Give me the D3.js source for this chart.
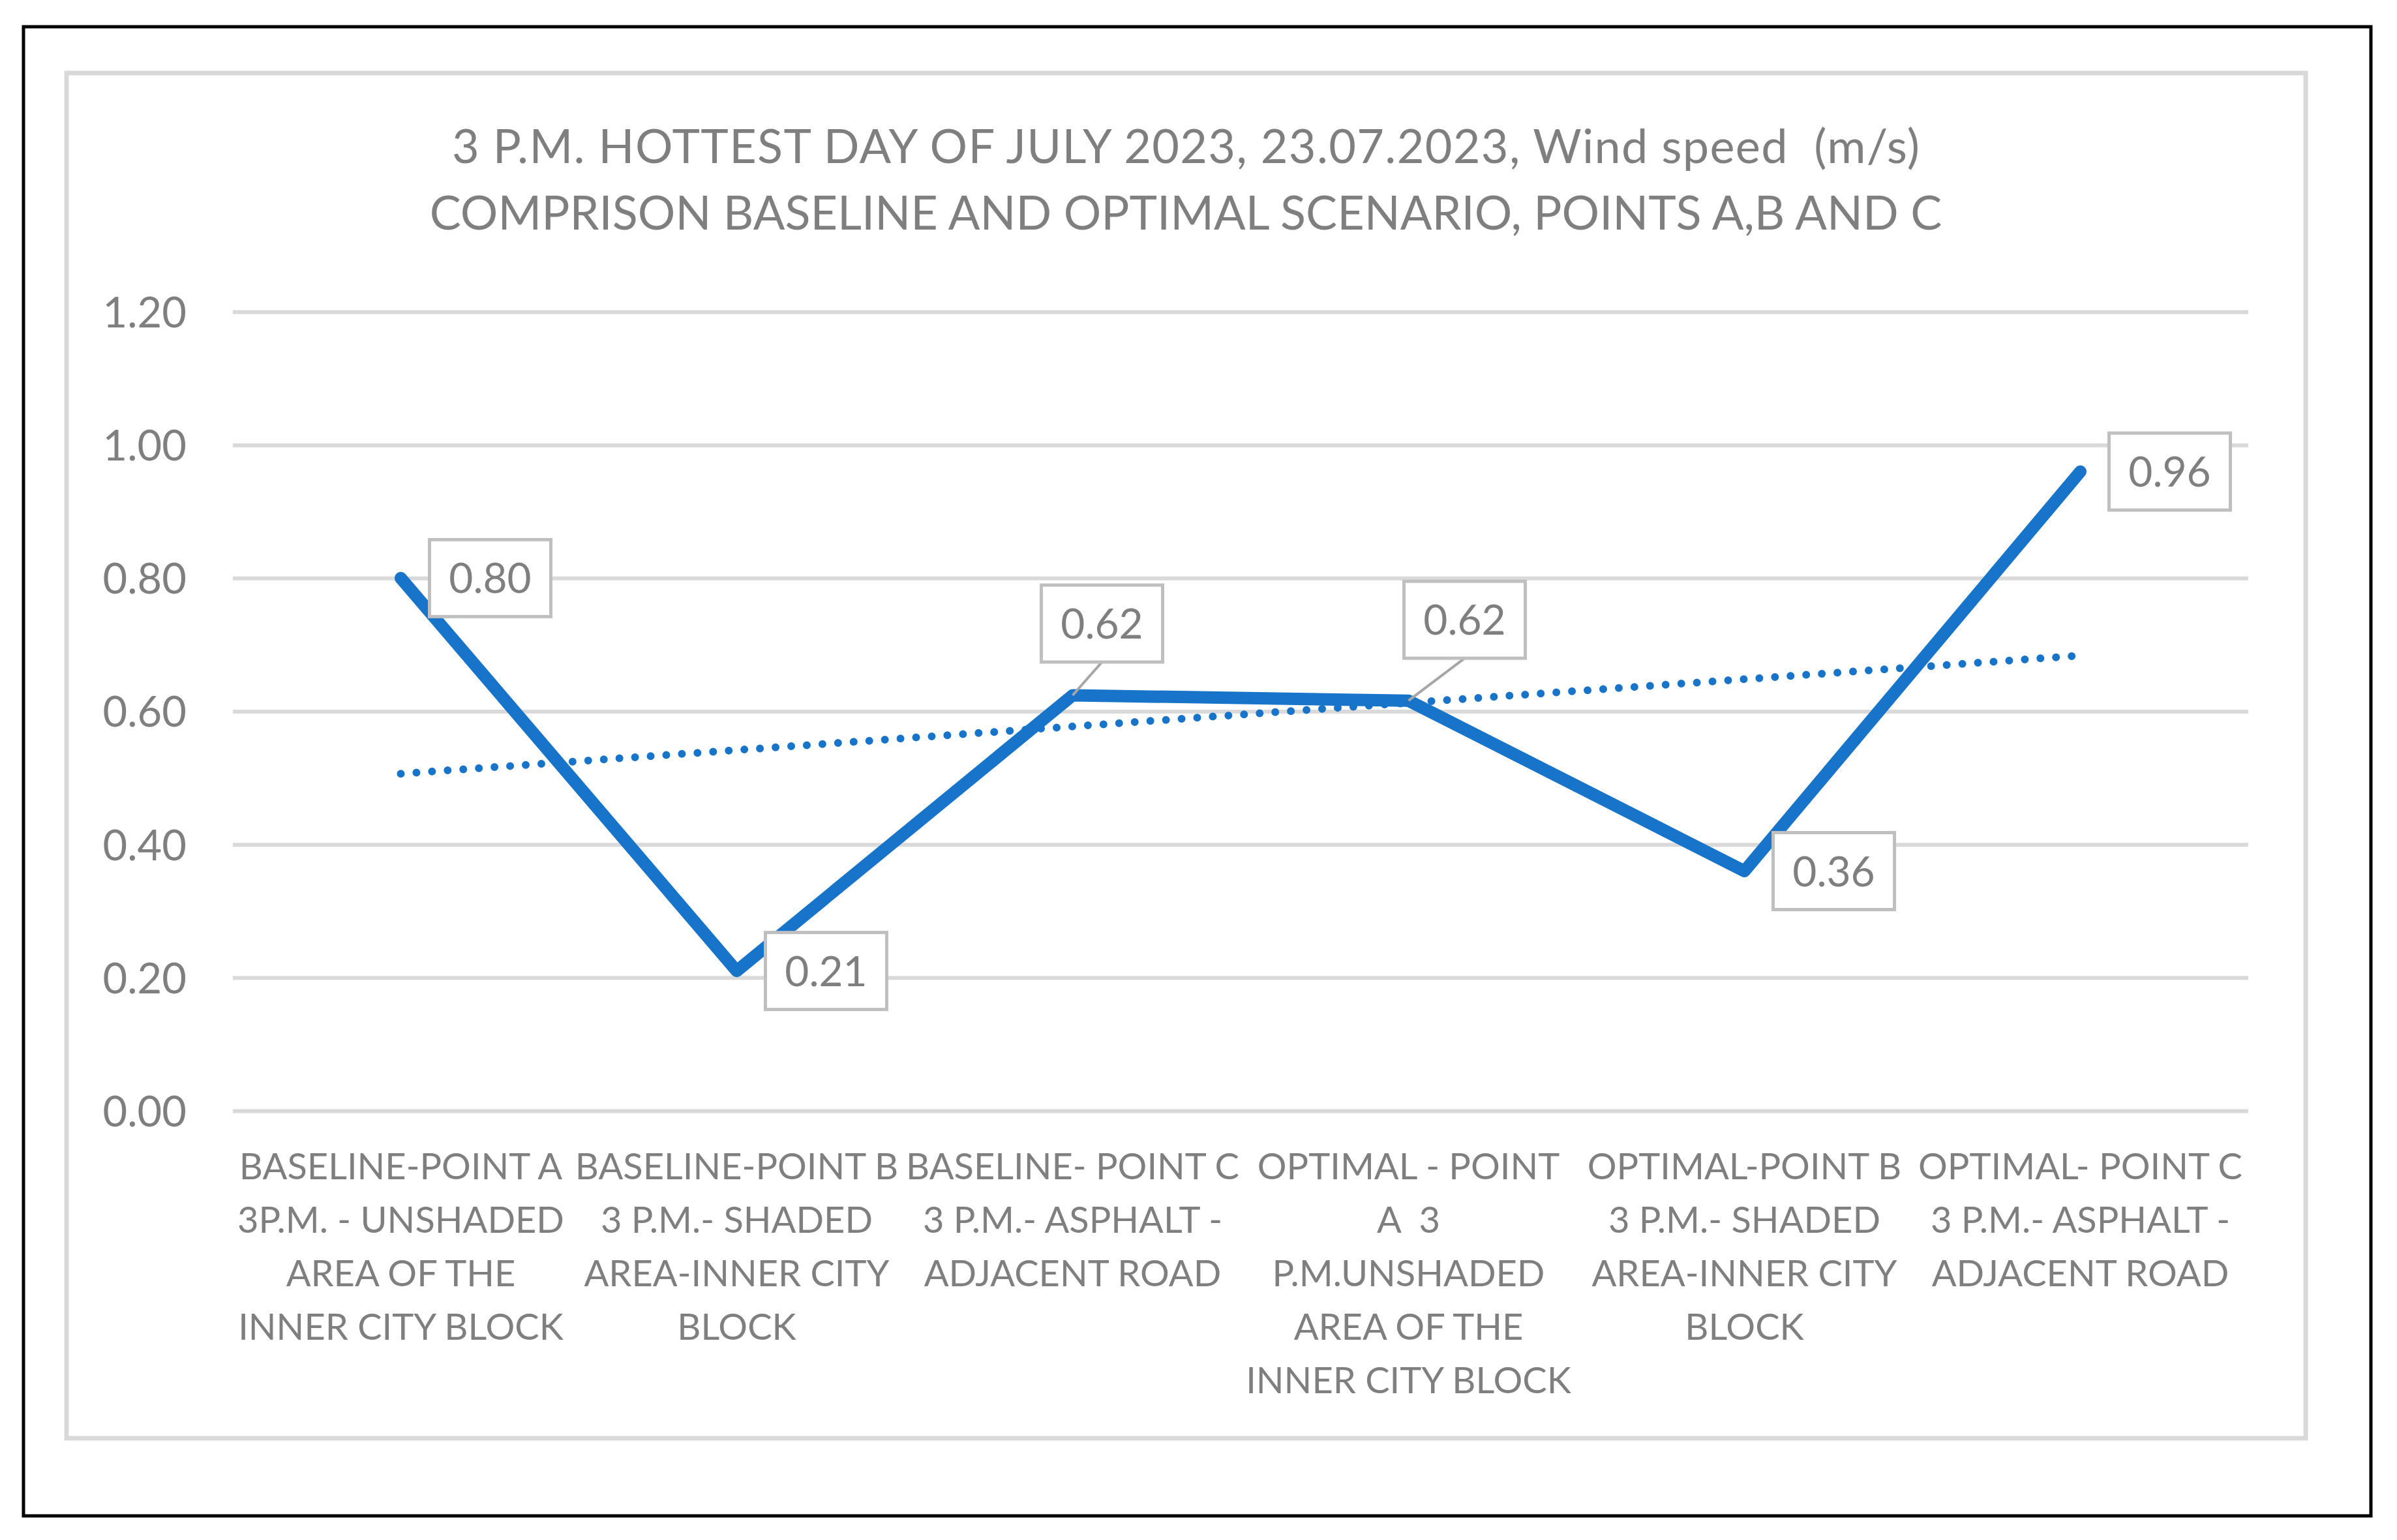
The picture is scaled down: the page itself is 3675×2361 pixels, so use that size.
<!DOCTYPE html>
<html>
<head>
<meta charset="utf-8">
<script src="https://cdn.jsdelivr.net/npm/d3@7"></script>
<style>
  body { margin: 0; background: #fff; }
  text { font-family: Lato, "Open Sans", sans-serif; fill: #7f7f7f; white-space: pre; }
</style>
</head>
<body>
<script>
const width = 3675;
const height = 2361;

// chart data
const titleLines = [
  "3 P.M. HOTTEST DAY OF JULY 2023, 23.07.2023, Wind speed  (m/s)",
  "COMPRISON BASELINE AND OPTIMAL SCENARIO, POINTS A,B AND C"
];
const categories = [
  ["BASELINE-POINT A", "3P.M. - UNSHADED", "AREA OF THE", "INNER CITY BLOCK"],
  ["BASELINE-POINT B", "3 P.M.- SHADED", "AREA-INNER CITY", "BLOCK"],
  ["BASELINE- POINT C", "3 P.M.- ASPHALT -", "ADJACENT ROAD"],
  ["OPTIMAL - POINT", "A  3", "P.M.UNSHADED", "AREA OF THE", "INNER CITY BLOCK"],
  ["OPTIMAL-POINT B", "3 P.M.- SHADED", "AREA-INNER CITY", "BLOCK"],
  ["OPTIMAL- POINT C", "3 P.M.- ASPHALT -", "ADJACENT ROAD"]
];
const windSpeed = [0.80, 0.21, 0.624, 0.616, 0.36, 0.96];
const valueLabels = ["0.80", "0.21", "0.62", "0.62", "0.36", "0.96"];
const yTicks = [0, 0.2, 0.4, 0.6, 0.8, 1.0, 1.2];

// where each data label box sits, relative to its point (box centre)
const labelOffsets = [[137, 0], [137, 0], [45, -110], [86, -124], [137, 0], [137, 0]];

const plot = { left: 357, right: 3447, top: 478, bottom: 1703 };

let svg = d3.select("body").append("svg")
  .attr("width", width)
  .attr("height", height);

// outer black frame and grey chart area border
svg.append("rect")
  .attr("x", 36).attr("y", 41)
  .attr("width", 3635 - 36).attr("height", 2324 - 41)
  .attr("fill", "#fff").attr("stroke", "#000").attr("stroke-width", 5);
svg.append("rect")
  .attr("x", 102).attr("y", 112)
  .attr("width", 3535 - 102).attr("height", 2205 - 112)
  .attr("fill", "#fff").attr("stroke", "#d9d9d9").attr("stroke-width", 7);

let x = d3.scaleBand()
  .domain(d3.range(categories.length))
  .range([plot.left, plot.right]);
let y = d3.scaleLinear()
  .domain([0, 1.2])
  .range([plot.bottom, plot.top]);
const cx = (i) => x(i) + x.bandwidth() / 2;

// gridlines
svg.append("g")
  .attr("transform", `translate(${plot.left},0)`)
  .call(d3.axisLeft(y).tickValues(yTicks).tickSize(-(plot.right - plot.left)).tickFormat(""))
  .call((g) => g.select(".domain").remove())
  .call((g) => g.selectAll(".tick line").attr("stroke", "#d9d9d9").attr("stroke-width", 6));

// y axis labels
svg.append("g")
  .attr("transform", `translate(${plot.left},0)`)
  .call(d3.axisLeft(y).tickValues(yTicks).tickSize(0).tickPadding(71).tickFormat(d3.format(".2f")))
  .call((g) => g.select(".domain").remove())
  .call((g) => g.selectAll(".tick text")
    .attr("font-family", null).attr("font-size", 65).attr("dy", "0.36em"));

// x axis labels (multi-line)
svg.append("g")
  .selectAll("text")
  .data(categories)
  .join("text")
  .attr("text-anchor", "middle")
  .attr("font-size", 56)
  .selectAll("tspan")
  .data((d, i) => d.map((line) => ({ line, i })))
  .join("tspan")
  .attr("x", (d) => cx(d.i))
  .attr("y", (d, j) => 1808 + j * 82)
  .text((d) => d.line);

// title
svg.append("g")
  .selectAll("text")
  .data(titleLines)
  .join("text")
  .attr("x", 1818)
  .attr("y", (d, i) => 250 + i * 102)
  .attr("text-anchor", "middle")
  .attr("font-size", 72)
  .attr("textLength", (d, i) => (i === 0 ? 2250 : null))
  .text((d) => d);

// linear trendline
let xs = windSpeed.map((d, i) => i);
let mx = d3.mean(xs), my = d3.mean(windSpeed);
let slope = d3.sum(xs, (xi, i) => (xi - mx) * (windSpeed[i] - my)) / d3.sum(xs, (xi) => (xi - mx) ** 2);
let intercept = my - slope * mx;
let trend = [0, categories.length - 1].map((i) => [cx(i), y(intercept + slope * i)]);

svg.append("path")
  .attr("d", d3.line()(trend))
  .attr("fill", "none")
  .attr("stroke", "#1874c9")
  .attr("stroke-width", 12)
  .attr("stroke-linecap", "round")
  .attr("stroke-dasharray", "0 24");

// main series
svg.append("path")
  .datum(windSpeed)
  .attr("d", d3.line().x((d, i) => cx(i)).y((d) => y(d)))
  .attr("fill", "none")
  .attr("stroke", "#1874c9")
  .attr("stroke-width", 19)
  .attr("stroke-linecap", "round")
  .attr("stroke-linejoin", "round");

// data labels
const boxW = 186, boxH = 118;
let labelData = windSpeed.map((v, i) => ({
  v, i, text: valueLabels[i], dx: labelOffsets[i][0], dy: labelOffsets[i][1]
}));

let labels = svg.append("g")
  .selectAll("g")
  .data(labelData)
  .join("g")
  .attr("transform", (d) => `translate(${cx(d.i) + d.dx},${y(d.v) + d.dy})`);

// leader lines for labels placed above their point
labels.filter((d) => d.dy !== 0)
  .append("line")
  .attr("x1", 0).attr("y1", boxH / 2)
  .attr("x2", (d) => -d.dx)
  .attr("y2", (d) => -d.dy)
  .attr("stroke", "#a6a6a6")
  .attr("stroke-width", 4);

labels.append("rect")
  .attr("x", -boxW / 2).attr("y", -boxH / 2)
  .attr("width", boxW).attr("height", boxH)
  .attr("fill", "#fff")
  .attr("stroke", "#bfbfbf")
  .attr("stroke-width", 5);

labels.append("text")
  .attr("text-anchor", "middle")
  .attr("dy", "0.36em")
  .attr("font-size", 64)
  .text((d) => d.text);
</script>
</body>
</html>
